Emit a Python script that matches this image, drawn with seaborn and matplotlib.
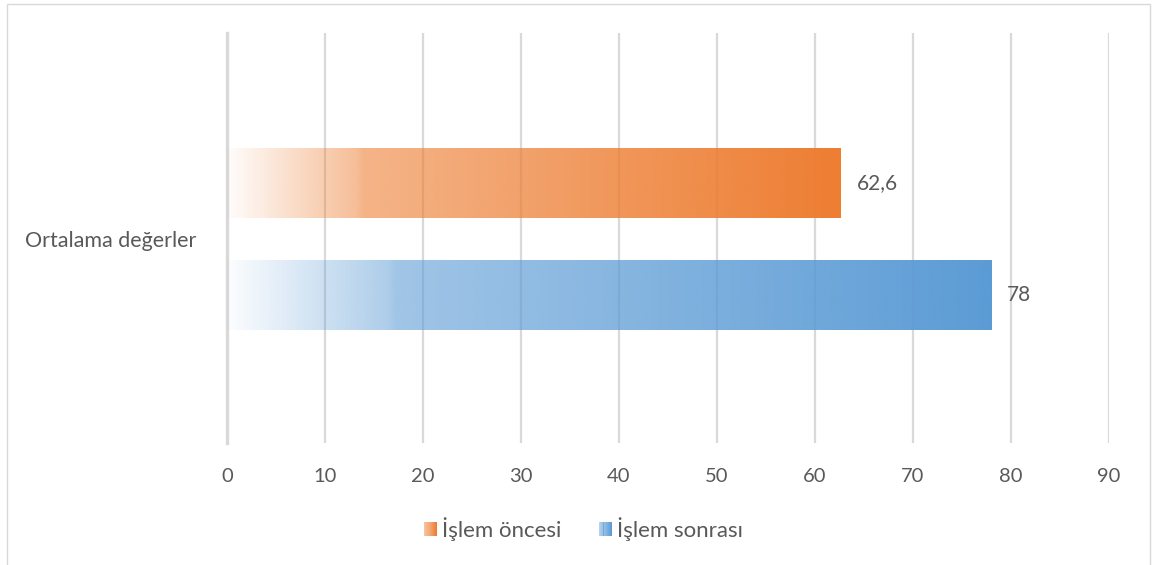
import numpy as np
import pandas as pd
import matplotlib
matplotlib.use("Agg")
import matplotlib.pyplot as plt
from matplotlib.patches import Rectangle
from matplotlib.legend_handler import HandlerBase
import seaborn as sns

# values
category = ["Ortalama değerler"]
series = ["İşlem öncesi", "İşlem sonrası"]
values = [62.6, 78]
colors = ["#ED7D31", "#5B9BD5"]
xticks = [0, 10, 20, 30, 40, 50, 60, 70, 80, 90]

df = pd.DataFrame({"cat": category * len(series), "series": series, "value": values})

sns.set_theme(style="white")
plt.rcParams["font.family"] = ["Lato", "DejaVu Sans"]
txt = "#595959"
grid_c = "#D9D9D9"

fig = plt.figure(figsize=(11.53, 5.65), dpi=100)
ax = fig.add_axes([227 / 1153, 1 - 443 / 565, (1109 - 227) / 1153, (443 - 33) / 565])

sns.barplot(data=df, y="cat", x="value", hue="series", palette=colors,
            orient="h", width=0.8, gap=0.375, legend=False, ax=ax, zorder=3)


# alpha ramp along each bar (light at the left end, full colour at the right)
def ramp(n):
    t = np.linspace(0, 1, n)
    return np.interp(t, [0, 0.21, 0.22, 1], [0.02, 0.5, 0.58, 1.0])


for patch, c in zip(ax.patches, colors):
    x0, y0 = patch.get_x(), patch.get_y()
    w, h = patch.get_width(), patch.get_height()
    rgba = np.zeros((1, 256, 4))
    rgba[..., :3] = matplotlib.colors.to_rgb(c)
    rgba[0, :, 3] = ramp(256)
    ax.imshow(rgba, extent=(x0, x0 + w, y0 + h, y0), aspect="auto",
              interpolation="bilinear", zorder=3)
    patch.set_facecolor("none")
    patch.set_edgecolor("none")

for cont in ax.containers:
    labs = [f"{v:g}".replace(".", ",") for v in cont.datavalues]
    ax.bar_label(cont, labels=labs, padding=11.5, fontsize=15, color=txt)

ax.set_xlim(0, 90)
ax.set_ylim(0.727, -0.7375)
ax.set_xticks(xticks)
ax.set_xticklabels([str(t) for t in xticks])
ax.set_xlabel("")
ax.set_ylabel("")
ax.xaxis.grid(True, color=grid_c, linewidth=1.6, zorder=0)
ax.set_axisbelow(True)
for s in ["top", "right", "bottom"]:
    ax.spines[s].set_visible(False)
ax.spines["left"].set_color(grid_c)
ax.spines["left"].set_linewidth(2.4)
ax.tick_params(axis="x", length=0, pad=18, labelsize=14.5, labelcolor=txt)
ax.tick_params(axis="y", length=0, pad=22, labelsize=15.5, labelcolor=txt)


class GradientHandler(HandlerBase):
    def create_artists(self, legend, orig_handle, xdescent, ydescent,
                       width, height, fontsize, trans):
        n = 12
        alphas = np.linspace(0.45, 1.0, n)
        out = []
        for i in range(n):
            r = Rectangle((-xdescent + width * i / n, -ydescent), width / n + 0.05, height,
                          facecolor=orig_handle.get_facecolor()[:3], alpha=alphas[i],
                          edgecolor="none", transform=trans)
            out.append(r)
        return out


handles = [Rectangle((0, 0), 1, 1, facecolor=c) for c in colors]
fig.legend(handles, series, loc="center", bbox_to_anchor=(0.506, 1 - 529 / 565),
           ncol=2, frameon=False, fontsize=16, labelcolor=txt,
           handlelength=0.6, handleheight=0.6, handletextpad=0.2, columnspacing=1.7,
           handler_map={Rectangle: GradientHandler()})

# chart border
fig.add_artist(Rectangle((7 / 1153, -0.02), (1150 - 7) / 1153, 1 - 4 / 565 + 0.02,
                         transform=fig.transFigure, fill=False,
                         edgecolor="#D9D9D9", linewidth=1))

fig.savefig("out.png", dpi=100)
